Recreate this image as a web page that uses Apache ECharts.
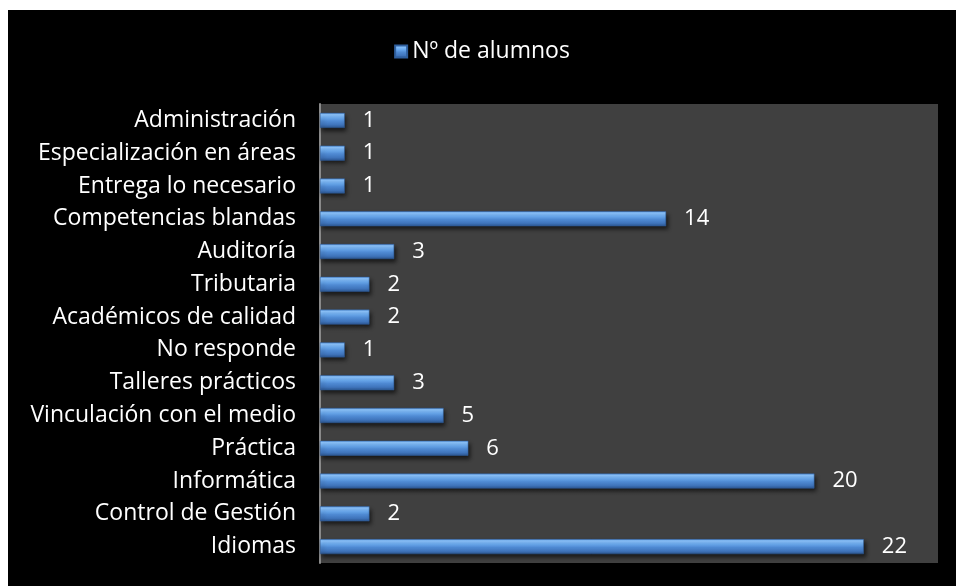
<!DOCTYPE html>
<html><head><meta charset="utf-8">
<script src="https://cdn.jsdelivr.net/npm/echarts@6/dist/echarts.min.js"></script>
<style>
html,body{margin:0;padding:0;background:#fff;width:956px;height:586px;overflow:hidden}
#c{position:absolute;left:8px;top:10px;width:948px;height:576px;background:#000}
</style></head><body><div id="c"></div>
<script>
const categories = ["Idiomas","Control de Gestión","Informática","Práctica","Vinculación con el medio","Talleres prácticos","No responde","Académicos de calidad","Tributaria","Auditoría","Competencias blandas","Entrega lo necesario","Especialización en áreas","Administración"];
const alumnos = [22,2,20,6,5,3,1,2,2,3,14,1,1,1];
const seriesName = "Nº de alumnos";

const font = "'Open Sans', sans-serif";
const barFill = new echarts.graphic.LinearGradient(0,0,0,1,[
  {offset:0,color:'#5d9be3'},
  {offset:0.12,color:'#8ec6ff'},
  {offset:0.35,color:'#6aaaf0'},
  {offset:0.55,color:'#4f8ad3'},
  {offset:0.8,color:'#3f74bb'},
  {offset:1,color:'#2c5690'}
]);
const chart = echarts.init(document.getElementById('c'), null, {renderer:'canvas'});
chart.setOption({
  backgroundColor:'#000',
  animation:false,
  legend:{
    top:25, left:'center',
    itemWidth:12, itemHeight:12, itemGap:4,
    icon:'rect',
    textStyle:{color:'#fff', fontSize:23, fontFamily:font},
    data:[seriesName]
  },
  grid:{left:312, right:18, top:94, bottom:23, backgroundColor:'#404040', show:true, borderWidth:0},
  xAxis:{type:'value', min:0, max:25, show:false, splitLine:{show:false}},
  yAxis:{
    type:'category', data:categories,
    axisLine:{show:true, lineStyle:{color:'#8a8a8a', width:2}},
    axisTick:{show:false},
    axisLabel:{color:'#fff', fontSize:23, fontFamily:font, margin:24}
  },
  series:[{
    name:seriesName, type:'bar', data:alumnos, barWidth:15,
    itemStyle:{color:barFill, borderColor:'#2f5f9e', borderWidth:0.5,
      shadowColor:'rgba(0,0,0,0.6)', shadowBlur:4, shadowOffsetX:2, shadowOffsetY:3},
    label:{show:true, position:'right', distance:18, color:'#fff', fontSize:22, fontFamily:font}
  }]
});
</script></body></html>
